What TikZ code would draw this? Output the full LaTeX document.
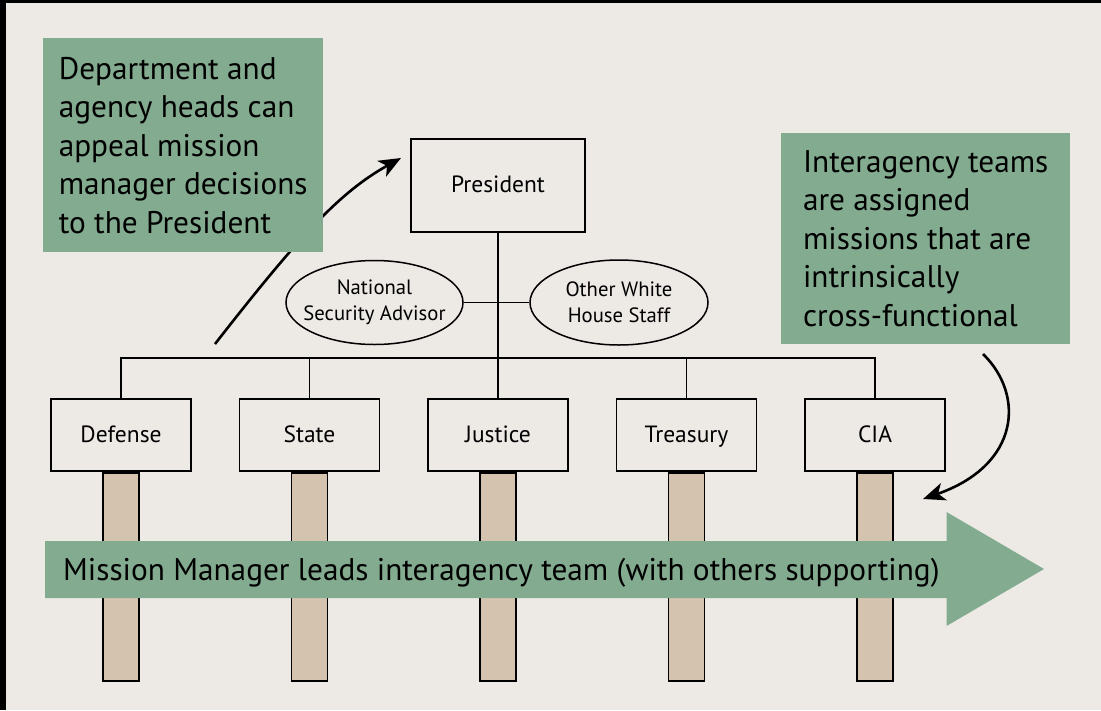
\documentclass[tikz,border=0pt]{standalone}
\usepackage{fontspec}
\setmainfont{PT Sans}
\usetikzlibrary{arrows.meta,shapes.geometric}
\definecolor{bgc}{HTML}{EDE9E5}
\definecolor{greenc}{HTML}{82AB8F}
\definecolor{tanc}{HTML}{D4C3AE}
\tikzset{
  x=1pt, y=-1pt,
  greenbox/.style={fill=greenc, draw=none, anchor=north west, align=left, inner sep=0pt,
    font=\fontsize{31.3}{38.5}\selectfont},
  orgbox/.style={draw=black, line width=1.8pt, fill=bgc, minimum width=140pt, minimum height=72pt,
    inner sep=0pt, text height=16pt, text depth=2pt, font=\fontsize{23.5}{28}\selectfont},
  staff/.style={draw=black, line width=1.5pt, fill=bgc, ellipse, minimum width=177pt, minimum height=84pt,
    inner xsep=-14pt, inner ysep=0pt, align=center, font=\fontsize{20.7}{26}\selectfont},
  bar/.style={draw=black, line width=1.6pt, fill=tanc, minimum width=36pt, minimum height=208pt,
    inner sep=0pt, anchor=north},
  link/.style={draw=black, line width=1.8pt},
  callout/.style={draw=black, line width=2.6pt, -{Stealth[length=22pt,width=18pt,inset=6pt]}},
}
\begin{document}
\begin{tikzpicture}
\useasboundingbox (0,0) rectangle (1101,710);
\fill[bgc] (0,0) rectangle (1101,710);
\fill[black] (0,0) rectangle (1101,3);
\fill[black] (0,0) rectangle (6,710);

% departments
\node[orgbox] (def) at (121,435) {Defense};
\node[orgbox] (sta) at (309.5,435) {State};
\node[orgbox] (jus) at (498,435) {Justice};
\node[orgbox] (tre) at (686.5,435) {Treasury};
\node[orgbox] (cia) at (875,435) {CIA};

% bars
\node[bar] (defbar) at (def.south) {};
\node[bar] (stabar) at (sta.south) {};
\node[bar] (jusbar) at (jus.south) {};
\node[bar] (trebar) at (tre.south) {};
\node[bar] (ciabar) at (cia.south) {};

% big arrow
\fill[greenc] (45,541) -- (946.5,541) -- (946.5,512) -- (1044,569) -- (946.5,626) -- (946.5,598) -- (45,598) -- cycle;
\node[anchor=base west, inner sep=0pt, font=\fontsize{31.3}{38}\selectfont] (mm) at (63,580)
  {Mission Manager leads interagency team (with others supporting)};

% president
\node[orgbox, minimum width=174pt, minimum height=93pt] (pres) at (498,185.5) {President};
\coordinate (hub) at (498,358);
\node[staff] (nsa) at (374.5,302.5) {National\\Security Advisor};
\node[staff, minimum width=178pt, minimum height=85pt] (owh) at (619,302.5) {Other White\\House Staff};
\draw[link] (pres.south) -- (hub);
\draw[link] (nsa.east) -- (nsa.east -| owh.west);
\draw[link] (def.north) |- (hub) -| (cia.north);
\draw[link] (sta.north) -- (sta.north |- hub);
\draw[link] (tre.north) -- (tre.north |- hub);
\draw[link] (jus.north) -- (hub);

% left callout
\coordinate (la) at (215,344);
\coordinate (lb) at (401,158);
\draw[callout] (la) .. controls (300,235) and (340,192) .. (lb);
\node[greenbox, minimum width=280pt, minimum height=214pt] (leftnote) at (43,38)
  {Department and\\agency heads can\\appeal mission\\manager decisions\\to the President};

% right callout
\node[greenbox, minimum width=289pt, minimum height=211pt] (rightnote) at (781,133)
  {Interagency teams\\are assigned\\missions that are\\intrinsically\\cross-functional};
\coordinate (ra) at (983,354);
\coordinate (rb) at (923,499);
\draw[callout] (ra) .. controls (1025,395) and (1020,465) .. (rb);
\end{tikzpicture}
\end{document}
